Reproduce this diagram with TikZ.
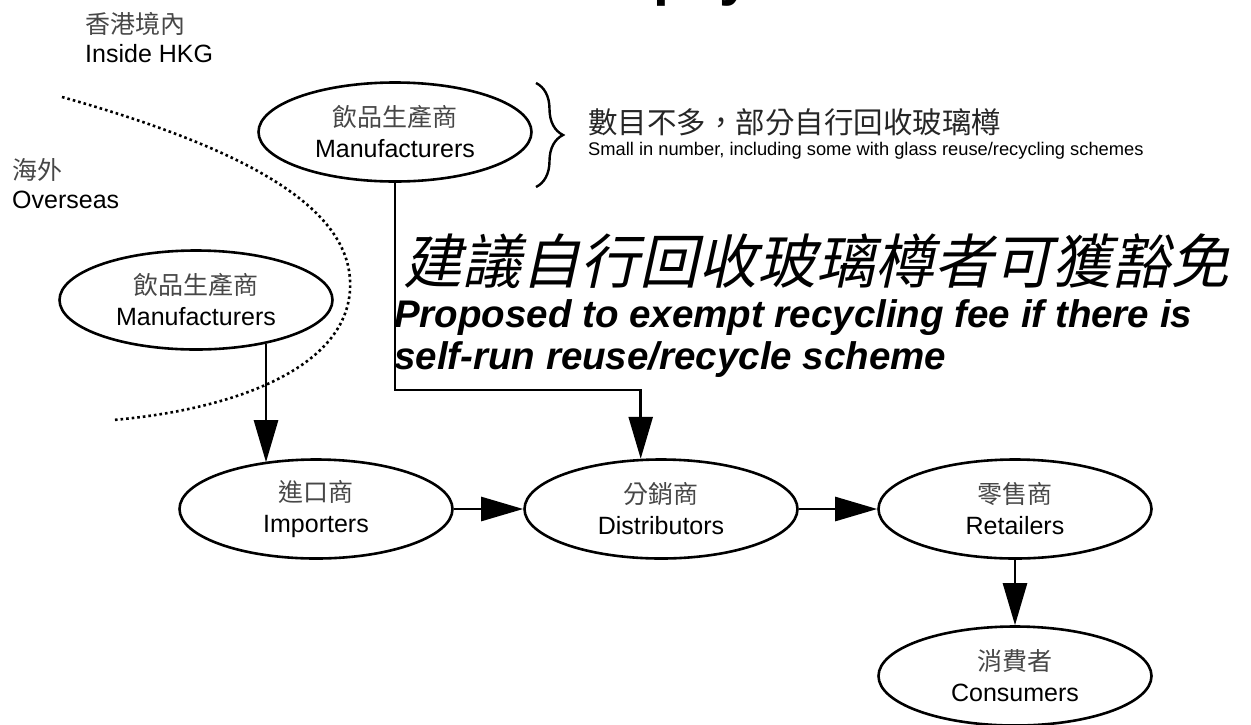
\documentclass[tikz,border=0pt]{standalone}
\usepackage{fontspec}
\setmainfont{Liberation Sans}
\newfontfamily\cjk{Noto Sans CJK TC}
\newfontfamily\cjkslant[FakeSlant=0.22]{Noto Sans CJK TC}
\usetikzlibrary{shapes.geometric,arrows.meta,decorations.pathreplacing}

\colorlet{hanzi}{black!72}
% Chinese line above the English line inside a stage ellipse
\newcommand\twoline[2]{{\cjk\color{hanzi}#1}\\#2}

\begin{document}
\begin{tikzpicture}[x=1pt,y=-1pt,
  stage/.style={ellipse,draw,line width=2.6pt,minimum width=273pt,minimum height=99pt,
    inner sep=0pt,align=center,font=\fontsize{25}{31}\selectfont},
  flow/.style={line width=2.6pt,-{Triangle[length=42pt,width=24pt]}},
  border/.style={line width=2.6pt,dash pattern=on 2.6pt off 3pt},
  label/.style={inner sep=0pt,anchor=base west,font=\fontsize{25}{30}\selectfont},
]
\useasboundingbox (0,0) rectangle (1251,724);

% heading: only the descenders reach the top edge
\begin{scope}
  \clip (0,0) rectangle (1251,6);
  \node[inner sep=0pt,anchor=base west,font=\fontsize{57}{60}\selectfont\bfseries] (title) at (653,-6) {pay};
\end{scope}

% region labels
\node[label,text=hanzi,font=\fontsize{25}{30}\selectfont\cjk] (hk) at (85,33) {香港境內};
\node[label] (hken) at (85,62) {Inside HKG};
\node[label,text=hanzi,font=\fontsize{25}{30}\selectfont\cjk] (os) at (12,179) {海外};
\node[label] (osen) at (12,208) {Overseas};

% border between overseas and Hong Kong
\draw[border] (62,97) .. controls (250,150) and (355,210) .. (350,290)
  .. controls (345,370) and (230,410) .. (113,420);

% supply chain stages
\node[stage] (tm) at (395,132) {\twoline{飲品生產商}{Manufacturers}};
\node[stage] (lm) at (196,300) {\twoline{飲品生產商}{Manufacturers}};
\node[stage] (imp) at (316,509) {\twoline{進口商}{Importers}};
\node[stage] (dist) at (661,509) {\twoline{分銷商}{Distributors}};
\node[stage] (ret) at (1015,509) {\twoline{零售商}{Retailers}};
\node[stage] (con) at (1015,676) {\twoline{消費者}{Consumers}};

% note on local manufacturers
\coordinate (bt) at (536,83);
\coordinate (bb) at (536,187);
\draw[line width=2.4pt,decorate,decoration={brace,amplitude=27pt}] (bt) -- (bb);
\node[inner sep=0pt,anchor=base west,text=black!85,font=\fontsize{29.5}{30}\selectfont\cjk] (note) at (588,133)
  {數目不多，部分自行回收玻璃樽};
\node[inner sep=0pt,anchor=base west,font=\fontsize{18.3}{20}\selectfont] (noteen) at (588,155)
  {Small in number, including some with glass reuse/recycling schemes};

% proposal
\node[inner sep=0pt,anchor=base west,font=\fontsize{59}{60}\selectfont\cjkslant] (prop) at (403,283)
  {建議自行回收玻璃樽者可獲豁免};
\node[inner sep=0pt,anchor=base west,font=\fontsize{38.5}{42}\selectfont\bfseries\itshape] (propen1) at (394,327)
  {Proposed to exempt recycling fee if there is};
\node[inner sep=0pt,anchor=base west,font=\fontsize{38.5}{42}\selectfont\bfseries\itshape] (propen2) at (394,369)
  {self-run reuse/recycle scheme};

% flows
\coordinate (bend) at (0,390);
\draw[flow] (tm.south) |- (bend -| dist.112.2) -- (dist.112.2);
\draw[flow] (lm.-32.8) -- (lm.-32.8 |- imp.139.3);
\draw[flow] (imp) -- (dist);
\draw[flow] (dist) -- (ret);
\draw[flow] (ret) -- (con);
\end{tikzpicture}
\end{document}
